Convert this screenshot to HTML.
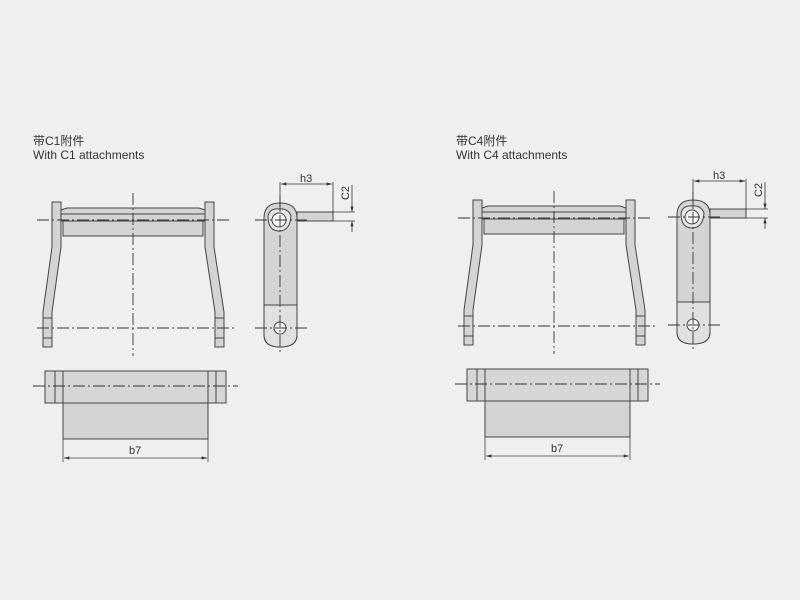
<!DOCTYPE html>
<html><head><meta charset="utf-8"><style>
html,body{margin:0;padding:0;background:#efefef;}
svg{display:block}
</style></head><body>
<svg width="800" height="600" xmlns="http://www.w3.org/2000/svg" font-family="Liberation Sans, 'Noto Sans CJK SC', sans-serif">
<rect width="800" height="600" fill="#efefef"/>
<defs>
<marker id="ar" viewBox="0 0 10 6" refX="10" refY="3" markerWidth="7" markerHeight="4" orient="auto-start-reverse"><path d="M0 0 L10 3 L0 6 Z" fill="#333"/></marker>
<g id="chain" stroke="#444" stroke-width="1" fill="#d4d4d4">
  <path d="M61 210 L67 208 H199 L205 210 V214 H61 Z"/>
  <rect x="61" y="214" width="144" height="7"/>
  <rect x="63" y="221" width="140" height="15"/>
  <path d="M52 202 H61 V247 L52 312 V347 H43 V312 L52 247 Z"/>
  <path d="M205 202 H214 V247 L224 312 V347 H215 V312 L205 247 Z"/>
  <line x1="43" y1="318" x2="52" y2="318"/><line x1="43" y1="338" x2="52" y2="338"/>
  <line x1="215" y1="318" x2="224" y2="318"/><line x1="215" y1="338" x2="224" y2="338"/>
  <g stroke="#333" stroke-width="0.9" stroke-dasharray="12,3,2,3" fill="none">
    <line x1="37" y1="220" x2="232" y2="220"/>
    <line x1="37" y1="328" x2="237" y2="328"/>
    <line x1="133" y1="193" x2="133" y2="356"/>
  </g>
</g>
<g id="side" stroke="#444" stroke-width="1" fill="#d4d4d4">
  <path d="M264 218 Q264 203 280 203 Q297 203 297 218 V335 Q297 347 280 347 Q264 347 264 335 Z"/>
  <path d="M264 305 H297 V335 Q297 347 280 347 Q264 347 264 335 Z" fill="#e0e0e0"/>
  <rect x="297" y="212" width="36" height="9"/>
  <path d="M268 216 Q270 208 279 209 Q288 208 291 216 Q290 231 279 231 Q268 231 268 216 Z" fill="#e6e6e6"/>
  <circle cx="279" cy="220" r="7" fill="#f4f4f4"/>
  <circle cx="280" cy="328" r="6" fill="#f4f4f4"/>
  <g stroke="#333" stroke-width="0.9" stroke-dasharray="12,3,2,3" fill="none">
    <line x1="255" y1="220" x2="310" y2="220"/>
    <line x1="255" y1="328" x2="308" y2="328"/>
    <line x1="280" y1="195" x2="280" y2="355"/>
  </g>
  <g stroke="#333" stroke-width="0.8" fill="none">
    <line x1="280" y1="182" x2="280" y2="210"/>
    <line x1="333" y1="182" x2="333" y2="212"/>
    <line x1="281" y1="184" x2="332" y2="184" marker-start="url(#ar)" marker-end="url(#ar)"/>
    <line x1="333" y1="212" x2="355" y2="212"/>
    <line x1="333" y1="221" x2="355" y2="221"/>
    <line x1="352" y1="185" x2="352" y2="212" marker-end="url(#ar)"/>
    <line x1="352" y1="232" x2="352" y2="221" marker-end="url(#ar)"/>
  </g>
  <text x="300" y="182" font-size="11" fill="#333" stroke="none">h3</text>
  <text transform="translate(349,193) rotate(-90)" font-size="11" fill="#333" stroke="none" text-anchor="middle">C2</text>
</g>
<g id="bot" stroke="#444" stroke-width="1" fill="#d4d4d4">
  <rect x="63" y="371" width="145" height="68"/>
  <rect x="45" y="371" width="181" height="32" fill="#d6d6d6"/>
  <line x1="55" y1="371" x2="55" y2="403"/><line x1="63" y1="371" x2="63" y2="403"/>
  <line x1="208" y1="371" x2="208" y2="403"/><line x1="216" y1="371" x2="216" y2="403"/>
  <line x1="33" y1="386" x2="238" y2="386" stroke="#333" stroke-width="0.9" stroke-dasharray="12,3,2,3"/>
  <line x1="63" y1="439" x2="63" y2="462" stroke-width="0.8"/>
  <line x1="208" y1="439" x2="208" y2="462" stroke-width="0.8"/>
  <line x1="64" y1="458" x2="207" y2="458" stroke-width="0.8" marker-start="url(#ar)" marker-end="url(#ar)"/>
  <text x="129" y="454" font-size="11" fill="#333" stroke="none">b7</text>
</g>
</defs>
<g font-size="12" fill="#333">
<text x="33" y="145">带C1附件</text>
<text x="33" y="159">With C1 attachments</text>
<text x="456" y="145">带C4附件</text>
<text x="456" y="159">With C4 attachments</text>
</g>
<use href="#chain"/>
<use href="#side"/>
<use href="#bot"/>
<use href="#chain" transform="translate(421,-2)"/>
<use href="#side" transform="translate(413,-3)"/>
<use href="#bot" transform="translate(422,-2)"/>
</svg>
</body></html>
